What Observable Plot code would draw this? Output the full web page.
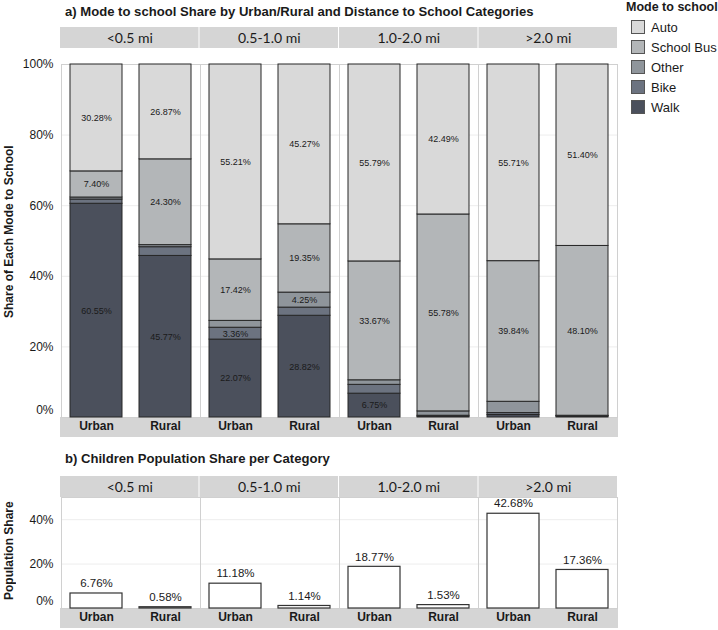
<!DOCTYPE html>
<html>
<head>
<meta charset="utf-8">
<script src="https://cdn.jsdelivr.net/npm/d3@7"></script>
<script src="https://cdn.jsdelivr.net/npm/@observablehq/plot@0.6"></script>
<style>
  body { margin: 0; background: #fff; font-family: "Liberation Sans", Arial, sans-serif; color: #1a1a1a; }
  #wrap { position: relative; width: 718px; height: 630px; overflow: hidden; }
  .title { position: absolute; left: 65px; font-weight: bold; font-size: 13.1px; white-space: nowrap; }
  .ylab { position: absolute; left: 1px; width: 16px; display: flex; align-items: center; justify-content: center;
          writing-mode: vertical-rl; transform: rotate(180deg); font-weight: bold; font-size: 12px; white-space: nowrap; }
  .chart { position: absolute; left: 0; }
  #legend { position: absolute; left: 626px; top: 0; font-size: 13px; }
  #legend .lt { font-weight: bold; font-size: 12.5px; margin-bottom: 3px; }
  #legend .item { display: flex; align-items: center; height: 20px; margin-left: 5px; }
  #legend .sw { width: 12px; height: 12px; border: 1px solid #555; margin-right: 6px; }
</style>
</head>
<body>
<div id="wrap">
  <div class="title" style="top:4px">a) Mode to school Share by Urban/Rural and Distance to School Categories</div>
  <div class="ylab" style="top:55px;height:353px">Share of Each Mode to School</div>
  <div class="chart" id="chartA" style="top:24px"></div>
  <div class="title" style="top:451px">b) Children Population Share per Category</div>
  <div class="ylab" style="top:495px;height:111px">Population Share</div>
  <div class="chart" id="chartB" style="top:472px"></div>
  <div id="legend"></div>
</div>
<script>
const distances = ["<0.5 mi", "0.5-1.0 mi", "1.0-2.0 mi", ">2.0 mi"];
const areas = ["Urban", "Rural"];
// stacked bottom to top
const modes = ["Walk", "Bike", "Other", "School Bus", "Auto"];
const modeColors = ["#4b505c", "#6c7380", "#8f959b", "#b3b6b8", "#d9d9d9"];

// one value per (distance, area): <0.5 U, <0.5 R, 0.5-1 U, 0.5-1 R, 1-2 U, 1-2 R, >2 U, >2 R
const walkShare  = [60.55, 45.77, 22.07, 28.82, 6.75, 0.25, 0.70, 0.25];
const bikeShare  = [1.20, 2.47, 3.36, 2.31, 2.50, 0.25, 0.55, 0.15];
const otherShare = [0.57, 0.59, 1.94, 4.25, 1.29, 1.23, 3.20, 0.10];
const busShare   = [7.40, 24.30, 17.42, 19.35, 33.67, 55.78, 39.84, 48.10];
const autoShare  = [30.28, 26.87, 55.21, 45.27, 55.79, 42.49, 55.71, 51.40];
const popShare   = [6.76, 0.58, 11.18, 1.14, 18.77, 1.53, 42.68, 17.36];

const ticksA = [20, 40, 60, 80, 100];
const ticksB = [20, 40];

const modeShares = [walkShare, bikeShare, otherShare, busShare, autoShare];

const rows = [];
const popRows = [];
distances.forEach((distance, i) => areas.forEach((area, j) => {
  const k = i * 2 + j;
  modes.forEach((mode, m) => rows.push({distance, area, mode, share: modeShares[m][k]}));
  popRows.push({distance, area, share: popShare[k]});
}));

const pct = d => d.toFixed(2) + "%";
const font = "'Liberation Sans', Arial, sans-serif";

// gray facet header strips and the bottom strip behind the x labels
function addStrips(chart, headTop, headH, footH) {
  const fx = chart.scale("fx");
  const y = chart.scale("y");
  const band = d3.scaleBand(fx.domain, fx.range)
    .paddingInner(fx.paddingInner || 0).paddingOuter(fx.paddingOuter || 0).align(fx.align ?? 0.5);
  const g = d3.select(chart).insert("g", ":first-child");
  g.selectAll(".head").data(fx.domain).join("rect")
    .attr("x", d => band(d)).attr("width", band.bandwidth() - 1)
    .attr("y", headTop).attr("height", headH).attr("fill", "#d5d5d5");
  g.append("rect")
    .attr("x", fx.range[0]).attr("width", fx.range[1] - fx.range[0])
    .attr("y", y.range[0]).attr("height", footH).attr("fill", "#d5d5d5");
  d3.select(chart).selectAll(".headtxt").data(fx.domain).join("text")
    .attr("x", d => band(d) + band.bandwidth() / 2).attr("y", headTop + headH / 2)
    .attr("text-anchor", "middle").attr("dominant-baseline", "central")
    .attr("font-family", "Lato, sans-serif").attr("font-size", 14).attr("fill", "#1a1a1a")
    .text(d => d);
}

// y axis: the 0% label sits a little above the baseline, as in the original
const yAxis = ticks => [
  Plot.axisY({ticks, tickFormat: d => d + "%", tickSize: 0, tickPadding: 8, fontSize: 12, label: null}),
  Plot.axisY({ticks: [0], tickFormat: d => d + "%", tickSize: 0, tickPadding: 8, fontSize: 12, label: null, dy: -7})
];

const chartA = Plot.plot({
  width: 625, height: 416,
  marginLeft: 60, marginRight: 7, marginTop: 40, marginBottom: 23,
  style: {fontFamily: font, color: "#1a1a1a", background: "transparent"},
  fx: {domain: distances, padding: 0, axis: null},
  x: {domain: areas, paddingInner: 0.24, paddingOuter: 0.12},
  y: {domain: [0, 100]},
  color: {domain: modes, range: modeColors},
  marks: [
    Plot.gridY(ticksA, {stroke: "#1a1a1a", strokeOpacity: 0.08}),
    Plot.frame({stroke: "#d0d0d0"}),
    ...yAxis(ticksA),
    Plot.axisX({tickSize: 0, tickPadding: 4, fontSize: 12, fontWeight: "bold", label: null}),
    Plot.barY(rows, Plot.stackY({
      fx: "distance", x: "area", y: "share", z: "mode", order: modes,
      fill: "mode", stroke: "#262626", strokeWidth: 1
    })),
    Plot.text(rows, Plot.stackY({
      fx: "distance", x: "area", y: "share", z: "mode", order: modes,
      text: d => d.share > 3.3 ? pct(d.share) : null, fontSize: 9, fill: "#1a1a1a"
    }))
  ]
});
document.getElementById("chartA").append(chartA);
addStrips(chartA, 3, 21, 20);

const chartB = Plot.plot({
  width: 625, height: 158,
  marginLeft: 60, marginRight: 7, marginTop: 25, marginBottom: 22,
  style: {fontFamily: font, color: "#1a1a1a", background: "transparent"},
  fx: {domain: distances, padding: 0, axis: null},
  x: {domain: areas, paddingInner: 0.24, paddingOuter: 0.12},
  y: {domain: [0, 50]},
  marks: [
    Plot.gridY(ticksB, {stroke: "#1a1a1a", strokeOpacity: 0.08}),
    Plot.frame({stroke: "#d0d0d0"}),
    ...yAxis(ticksB),
    Plot.axisX({tickSize: 0, tickPadding: 4, fontSize: 12, fontWeight: "bold", label: null}),
    Plot.barY(popRows, {fx: "distance", x: "area", y: "share", fill: "white", stroke: "#333", strokeWidth: 1.2}),
    Plot.text(popRows, {fx: "distance", x: "area", y: "share", text: d => pct(d.share), dy: -10, fontSize: 11.5, fill: "#1a1a1a"})
  ]
});
document.getElementById("chartB").append(chartB);
addStrips(chartB, 4, 21, 20);

// legend, top to bottom: Auto ... Walk
const legend = d3.select("#legend");
legend.append("div").attr("class", "lt").text("Mode to school");
const items = legend.selectAll(".item").data(modes.slice().reverse()).join("div").attr("class", "item");
items.append("div").attr("class", "sw").style("background", d => modeColors[modes.indexOf(d)]);
items.append("span").text(d => d);
</script>
</body>
</html>
